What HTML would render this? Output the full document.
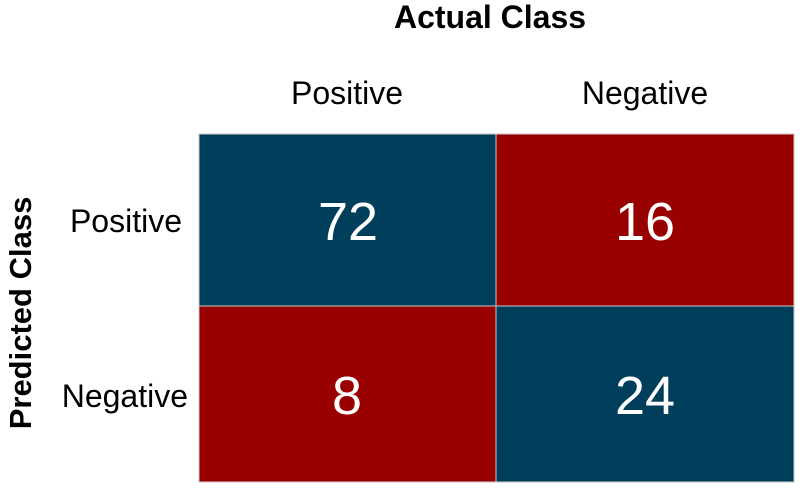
<!DOCTYPE html>
<html><head><style>body{margin:0;background:#fff}</style></head><body>
<svg width="800" height="488" xmlns="http://www.w3.org/2000/svg" font-family="Liberation Sans, sans-serif">
<rect x="199" y="134" width="297" height="172" fill="#003f5c" stroke="#c8c8c8" stroke-width="1"/>
<rect x="496" y="134" width="298" height="172" fill="#990000" stroke="#c8c8c8" stroke-width="1"/>
<rect x="199" y="306" width="297" height="176" fill="#990000" stroke="#c8c8c8" stroke-width="1"/>
<rect x="496" y="306" width="298" height="176" fill="#003f5c" stroke="#c8c8c8" stroke-width="1"/>
<g fill="#fff" font-size="54" text-anchor="middle">
<text x="348" y="240">72</text><text x="645" y="240">16</text>
<text x="347" y="414">8</text><text x="645" y="414">24</text>
</g>
<text x="490" y="28" font-size="32" font-weight="bold" text-anchor="middle">Actual Class</text>
<g font-size="32" text-anchor="middle">
<text x="347" y="104">Positive</text><text x="645" y="104">Negative</text>
</g>
<g font-size="32" text-anchor="end">
<text x="182" y="232">Positive</text><text x="188" y="407">Negative</text>
</g>
<text transform="translate(31,313) rotate(-90)" font-size="31" font-weight="bold" text-anchor="middle">Predicted Class</text>
</svg>
</body></html>
